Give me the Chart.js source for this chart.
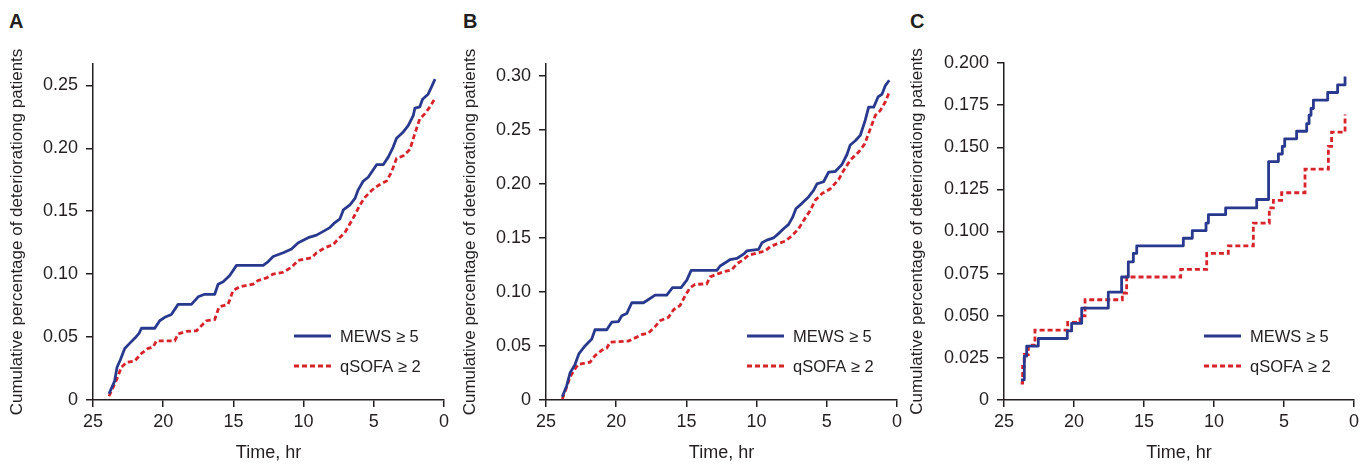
<!DOCTYPE html>
<html>
<head>
<meta charset="utf-8">
<script src="https://cdn.jsdelivr.net/npm/chart.js@4.4.1/dist/chart.umd.min.js"></script>
<style>
  html, body { margin: 0; padding: 0; background: #fff; }
  body { width: 1370px; height: 465px; position: relative; overflow: hidden; }
  canvas { position: absolute; top: 0; }
  .tag { position: absolute; top: 10px; line-height: 20px; font: bold 20px "Liberation Sans", Arial, sans-serif; color: #231f20; }
</style>
</head>
<body>
<div class="tag" style="left:9px">A</div>
<div class="tag" style="left:463px">B</div>
<div class="tag" style="left:910px">C</div>
<canvas id="chartA"></canvas>
<canvas id="chartB"></canvas>
<canvas id="chartC"></canvas>
<script>
// hours before event, cumulative share
const hourTicks = [25, 20, 15, 10, 5, 0];
const yTicksA = [0, 0.05, 0.10, 0.15, 0.20, 0.25];
const yTicksB = [0, 0.05, 0.10, 0.15, 0.20, 0.25, 0.30];
const yTicksC = [0, 0.025, 0.050, 0.075, 0.100, 0.125, 0.150, 0.175, 0.200];
const seriesLabels = ['MEWS \u2265 5', 'qSOFA \u2265 2'];

const mewsA = [
  [23.86,0.005],[23.46,0.015],[23.29,0.026],[23.05,0.032],[22.74,0.041],[22.39,0.045],[22.03,0.049],
  [21.72,0.053],[21.55,0.057],[20.6,0.057],[20.25,0.063],[19.84,0.066],[19.42,0.068],[18.94,0.076],
  [17.99,0.076],[17.51,0.082],[17.04,0.084],[16.33,0.084],[16.09,0.092],[15.73,0.094],[15.26,0.099],
  [14.78,0.107],[12.88,0.107],[12.52,0.110],[12.17,0.114],[11.45,0.117],[10.86,0.120],[10.38,0.125],
  [9.67,0.129],[9.08,0.131],[8.6,0.134],[8.13,0.137],[7.77,0.141],[7.41,0.144],[7.17,0.151],
  [6.7,0.155],[6.35,0.160],[6.11,0.167],[5.75,0.174],[5.4,0.177],[5.16,0.181],[4.8,0.187],
  [4.33,0.187],[3.97,0.193],[3.62,0.201],[3.38,0.208],[2.9,0.213],[2.55,0.218],[2.19,0.226],
  [2.07,0.232],[1.72,0.233],[1.53,0.239],[1.13,0.243],[0.88,0.249],[0.64,0.255]
];
const qsofaA = [
  [23.86,0.003],[23.57,0.010],[23.29,0.017],[22.98,0.026],[22.62,0.030],[22.03,0.031],[21.55,0.037],
  [21.08,0.041],[20.72,0.042],[20.48,0.047],[19.18,0.047],[18.94,0.0525],[18.35,0.0546],[17.63,0.055],
  [17.28,0.059],[16.92,0.063],[16.33,0.064],[16.02,0.074],[15.38,0.076],[15.02,0.087],[14.54,0.090],
  [13.59,0.092],[13.24,0.095],[12.64,0.097],[12.17,0.100],[11.45,0.1015],[10.86,0.1055],[10.38,0.111],
  [9.44,0.113],[9.08,0.117],[8.48,0.121],[7.89,0.1235],[7.53,0.128],[7.06,0.133],[6.7,0.140],
  [6.35,0.147],[5.99,0.155],[5.63,0.161],[5.16,0.1665],[4.68,0.1705],[4.09,0.174],[3.74,0.181],
  [3.38,0.192],[2.9,0.194],[2.43,0.199],[2.07,0.212],[1.72,0.2235],[1.36,0.2275],[1.0,0.233],[0.64,0.2395]
];
const mewsB = [
  [23.84,0.003],[23.53,0.013],[23.29,0.025],[22.93,0.033],[22.65,0.043],[22.22,0.050],[21.74,0.0565],
  [21.51,0.065],[20.67,0.065],[20.32,0.072],[19.84,0.0726],[19.6,0.078],[19.25,0.080],[18.89,0.090],
  [18.06,0.090],[17.7,0.093],[17.23,0.097],[16.4,0.097],[15.99,0.104],[15.38,0.104],[14.97,0.111],
  [14.66,0.120],[12.83,0.120],[12.6,0.124],[12.12,0.128],[11.88,0.130],[11.41,0.131],[10.93,0.135],
  [10.7,0.138],[9.86,0.1395],[9.62,0.1455],[9.27,0.148],[8.8,0.150],[8.44,0.154],[8.08,0.1585],
  [7.72,0.1625],[7.44,0.169],[7.2,0.177],[6.77,0.182],[6.3,0.188],[5.94,0.194],[5.7,0.200],
  [5.23,0.202],[4.87,0.211],[4.4,0.2115],[3.92,0.218],[3.57,0.227],[3.33,0.236],[2.97,0.240],
  [2.61,0.245],[2.26,0.259],[2.02,0.271],[1.66,0.271],[1.35,0.2805],[1.07,0.283],[0.83,0.291],[0.55,0.296]
];
const qsofaB = [
  [23.84,0.001],[23.53,0.012],[23.29,0.021],[22.93,0.029],[22.7,0.033],[21.86,0.035],[21.51,0.041],
  [21.03,0.046],[20.67,0.048],[20.44,0.0535],[19.13,0.0545],[18.65,0.0575],[18.18,0.0605],[17.7,0.062],
  [17.23,0.068],[16.87,0.0735],[16.28,0.0765],[15.92,0.0835],[15.45,0.0875],[15.09,0.0965],[14.73,0.104],
  [14.38,0.107],[13.55,0.1075],[13.31,0.114],[12.72,0.117],[12.25,0.119],[11.77,0.1205],[11.41,0.126],
  [10.93,0.130],[10.58,0.134],[9.98,0.136],[9.39,0.138],[9.03,0.142],[8.56,0.1445],[7.96,0.147],
  [7.49,0.152],[7.01,0.1585],[6.66,0.166],[6.18,0.1755],[5.82,0.185],[5.35,0.191],[4.75,0.1955],
  [4.16,0.204],[3.8,0.2125],[3.33,0.222],[2.73,0.2295],[2.3,0.237],[1.9,0.251],[1.54,0.2635],
  [1.19,0.268],[0.83,0.276],[0.55,0.285]
];
const mewsC = [
  [23.79,0.012],[23.55,0.026],[23.38,0.032],[22.55,0.0365],[20.48,0.041],[20.17,0.0455],[19.45,0.0545],
  [17.55,0.064],[16.6,0.073],[16.12,0.082],[15.76,0.087],[15.52,0.0915],[12.19,0.096],[11.55,0.1005],
  [10.57,0.105],[10.4,0.110],[9.17,0.114],[6.95,0.119],[6.1,0.1415],[5.4,0.146],[5.12,0.1505],
  [4.95,0.155],[4.1,0.1595],[3.38,0.164],[3.21,0.169],[3.07,0.173],[2.9,0.178],[1.88,0.1825],
  [1.17,0.187],[0.64,0.192]
];
const qsofaC = [
  [23.81,0.010],[23.67,0.020],[23.55,0.027],[23.26,0.0325],[22.79,0.0415],[20.45,0.046],[19.57,0.050],
  [19.21,0.0595],[16.55,0.0635],[16.24,0.073],[12.38,0.0775],[10.52,0.087],[8.98,0.0915],[7.19,0.105],
  [6.05,0.114],[5.76,0.1185],[5.17,0.123],[3.5,0.137],[1.83,0.1505],[1.6,0.159],[0.64,0.1695]
];

const BLUE = '#293a8e';
const RED = '#d7232a';
const INK = '#231f20';
const FONT = '"Liberation Sans", Arial, sans-serif';

// legend sits inside the plot, lower right
const innerLegend = {
  id: 'innerLegend',
  afterDraw(chart) {
    const { ctx, chartArea } = chart;
    const x0 = chartArea.right - 150;
    chart.data.datasets.forEach((ds, i) => {
      const y = chartArea.bottom - 64 + i * 30;
      ctx.save();
      ctx.strokeStyle = ds.borderColor;
      ctx.lineWidth = ds.borderWidth;
      ctx.setLineDash(ds.borderDash || []);
      ctx.beginPath();
      ctx.moveTo(x0, y);
      ctx.lineTo(x0 + 37, y);
      ctx.stroke();
      ctx.setLineDash([]);
      ctx.fillStyle = INK;
      ctx.font = '16.5px ' + FONT;
      ctx.textBaseline = 'middle';
      ctx.fillText(ds.label, x0 + 46, y + 1);
      ctx.restore();
    });
  }
};

function toPoints(pairs) {
  return pairs.map(p => ({ x: p[0], y: p[1] }));
}

function drawPanel(id, o) {
  const canvas = document.getElementById(id);
  canvas.width = o.width;
  canvas.height = 465;
  canvas.style.left = o.left + 'px';

  new Chart(canvas, {
    type: 'line',
    data: {
      datasets: [
        { label: seriesLabels[0], data: toPoints(o.mews), borderColor: BLUE, borderWidth: 2.8,
          stepped: o.stepped, pointRadius: 0, fill: false, borderJoinStyle: 'round' },
        { label: seriesLabels[1], data: toPoints(o.qsofa), borderColor: RED, borderWidth: 2.8,
          borderDash: [5, 3], stepped: o.stepped, pointRadius: 0, fill: false },
      ],
    },
    options: {
      responsive: false,
      animation: false,
      layout: { padding: { left: 0, right: 10, top: o.top, bottom: 0 } },
      plugins: { legend: { display: false }, tooltip: { enabled: false } },
      scales: {
        x: {
          type: 'linear', reverse: true, min: 0, max: 25,
          afterBuildTicks: s => { s.ticks = hourTicks.map(v => ({ value: v })); },
          afterFit: s => { s.height = 65; },
          border: { color: INK, width: 1.5 },
          grid: { drawOnChartArea: false, drawTicks: true, tickLength: 7, color: INK, lineWidth: 1.5 },
          ticks: { color: INK, font: { family: FONT, size: 18 }, padding: 4, maxRotation: 0 },
          title: { display: true, text: 'Time, hr', color: INK, font: { family: FONT, size: 18 },
                   padding: { top: 0, bottom: 1 } },
        },
        y: {
          type: 'linear', min: 0, max: o.yMax,
          afterBuildTicks: s => { s.ticks = o.yTicks.map(v => ({ value: v })); },
          afterFit: s => { s.width = o.yWidth; },
          border: { color: INK, width: 1.5 },
          grid: { drawOnChartArea: false, drawTicks: true, tickLength: 7, color: INK, lineWidth: 1.5 },
          ticks: { color: INK, font: { family: FONT, size: 18 }, padding: 8,
                   callback: v => v === 0 ? '0' : v.toFixed(o.decimals) },
          title: { display: true, text: 'Cumulative percentage of deteriorationg patients', color: INK,
                   font: { family: FONT, size: 17 }, padding: { top: 2, bottom: 0 } },
        },
      },
    },
    plugins: [innerLegend],
  });
}

drawPanel('chartA', { left: 5,   width: 449, top: 64, yWidth: 88, yMax: 0.267, yTicks: yTicksA, decimals: 2, stepped: false, mews: mewsA, qsofa: qsofaA });
drawPanel('chartB', { left: 458, width: 449, top: 64, yWidth: 88, yMax: 0.311, yTicks: yTicksB, decimals: 2, stepped: false, mews: mewsB, qsofa: qsofaB });
drawPanel('chartC', { left: 905, width: 459, top: 63, yWidth: 99, yMax: 0.200, yTicks: yTicksC, decimals: 3, stepped: true,  mews: mewsC, qsofa: qsofaC });
</script>
</body>
</html>
